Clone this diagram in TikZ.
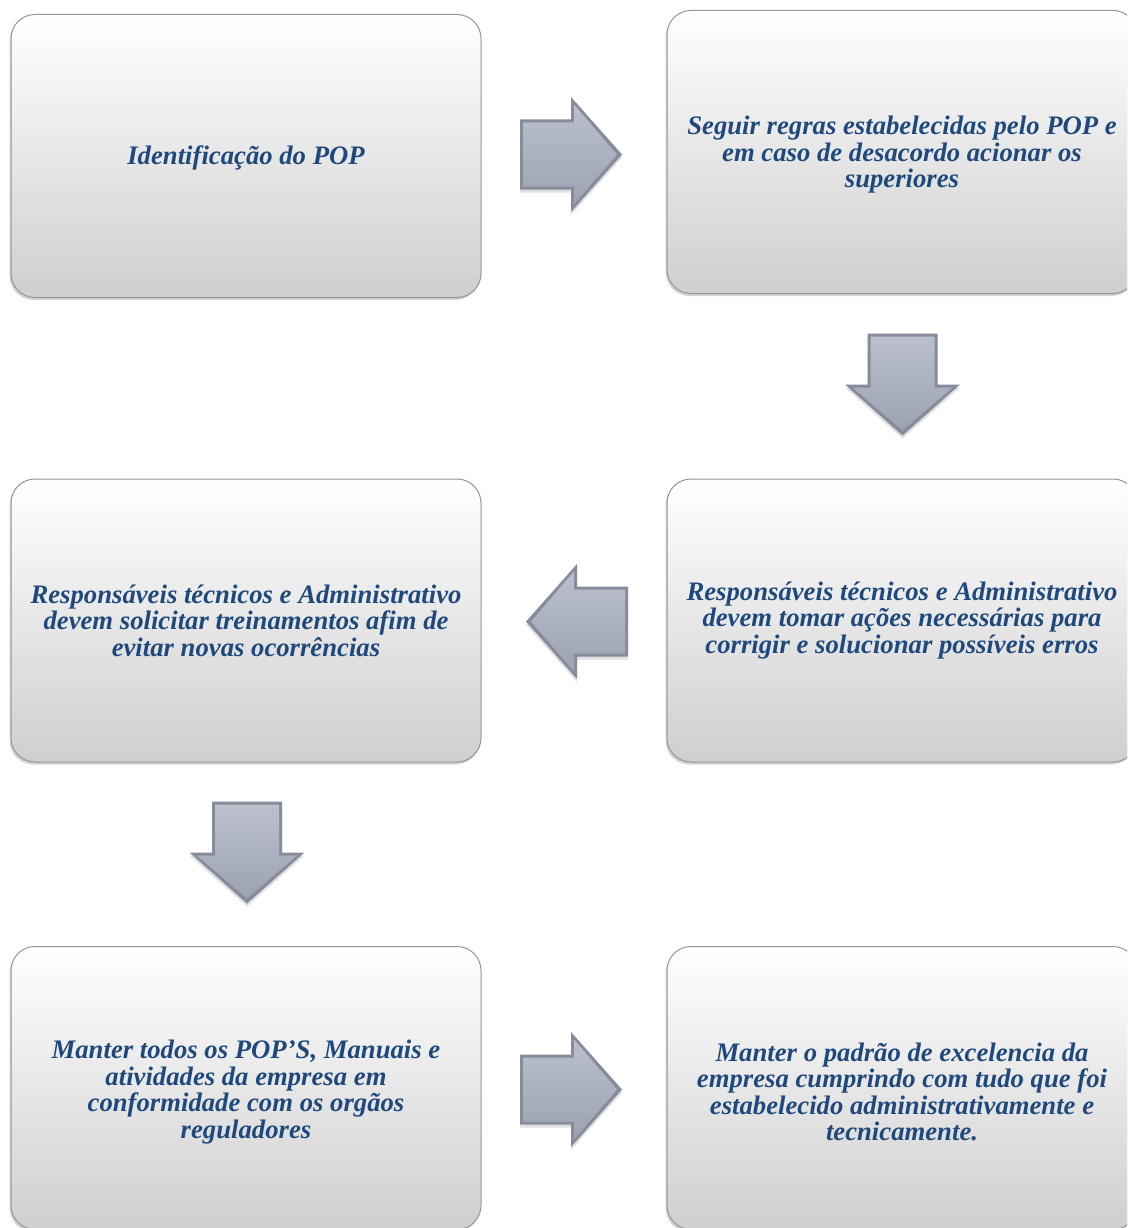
\documentclass[tikz,border=0pt]{standalone}
\usepackage{fontspec}
\setmainfont{Liberation Serif}
\usetikzlibrary{shadows}
\definecolor{txtblue}{HTML}{1F497D}
\definecolor{boxbot}{HTML}{CFCFCF}
\definecolor{boxedge}{HTML}{959595}
\definecolor{arrowdark}{HTML}{868C9C}
\definecolor{arrowlight}{HTML}{BBC0CC}
\definecolor{arrowmid}{HTML}{9CA2B1}
\begin{document}
\begin{tikzpicture}[x=1pt,y=-1pt,
  box/.style={rounded corners=24pt, minimum width=470pt, minimum height=283pt,
    top color=white, bottom color=boxbot, draw=boxedge, line width=1pt,
    drop shadow={shadow xshift=-1.5pt, shadow yshift=-2.5pt, opacity=0.35}},
  boxtext/.style={align=center, font=\fontsize{26.7}{26.5}\selectfont\bfseries\itshape,
    text=txtblue, inner sep=0pt, yshift=-3pt},
  blockarrow/.pic={
    \fill[arrowdark, drop shadow={shadow xshift=0pt, shadow yshift=-3pt, opacity=0.25}]
      (-51,-35) -- (0,-35) -- (0,-57.5) -- (51,0) -- (0,57.5) -- (0,35) -- (-51,35) -- cycle;
    \shade[top color=arrowlight, bottom color=arrowmid]
      (-48,-32) -- (3,-32) -- (3,-50) -- (46,0) -- (3,50) -- (3,32) -- (-48,32) -- cycle;
  }]
\useasboundingbox (0,0) rectangle (1127,1228);
\clip (0,0) rectangle (1127,1228);

\node[box] (b1) at (246,156) {};
\node[box] (b2) at (902,152) {};
\node[box] (b3) at (902,620.5) {};
\node[box] (b4) at (246,620.5) {};
\node[box] (b5) at (246,1088) {};
\node[box] (b6) at (902,1088) {};

\node[boxtext, yshift=1pt] (t1) at (b1.center) {Identificação do POP};
\node[boxtext] (t2) at (b2.center) {Seguir regras estabelecidas pelo POP e\\em caso de desacordo acionar os\\superiores};
\node[boxtext, yshift=3pt] (t3) at (b3.center) {Responsáveis técnicos e Administrativo\\devem tomar ações necessárias para\\corrigir e solucionar possíveis erros};
\node[boxtext, yshift=3pt] (t4) at (b4.center) {Responsáveis técnicos e Administrativo\\devem solicitar treinamentos afim de\\evitar novas ocorrências};
\node[boxtext, yshift=-1pt] (t5) at (b5.center) {Manter todos os POP'S, Manuais e\\atividades da empresa em\\conformidade com os orgãos\\reguladores};
\node[boxtext, yshift=-1pt] (t6) at (b6.center) {Manter o padrão de excelencia da\\empresa cumprindo com tudo que foi\\estabelecido administrativamente e\\tecnicamente.};

\coordinate (a1) at (571,154.5);
\coordinate (a2) at (902.5,384.5);
\coordinate (a3) at (577,621.5);
\coordinate (a4) at (247,852.5);
\coordinate (a5) at (571,1089.5);
\pic at (a1) {blockarrow};
\pic[rotate=-90] at (a2) {blockarrow};
\pic[rotate=180] at (a3) {blockarrow};
\pic[rotate=-90] at (a4) {blockarrow};
\pic at (a5) {blockarrow};
\end{tikzpicture}
\end{document}
